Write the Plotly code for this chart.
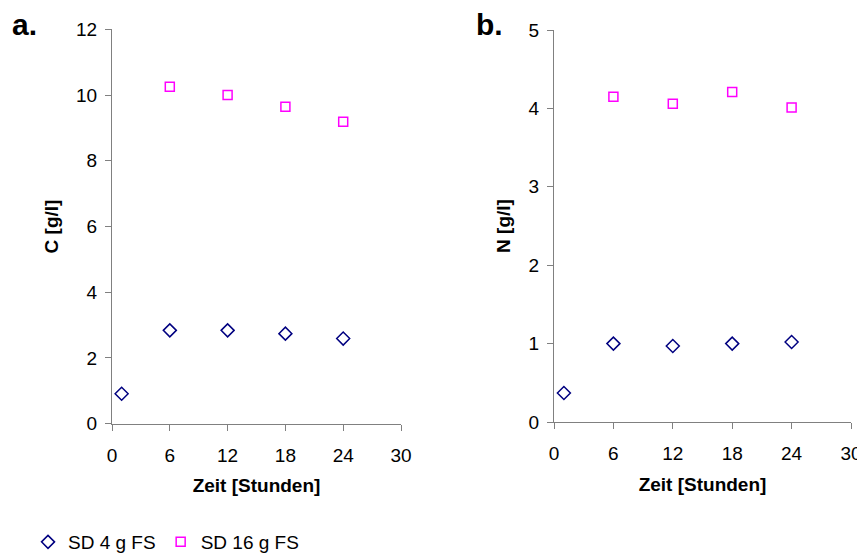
import plotly.graph_objects as go

zeit = [1, 6, 12, 18, 24]
c_sd4 = [0.91, 2.84, 2.84, 2.74, 2.59]
c_sd16 = [None, 10.25, 10.0, 9.64, 9.19]
n_sd4 = [0.37, 1.0, 0.97, 1.0, 1.02]
n_sd16 = [None, 4.15, 4.06, 4.21, 4.01]
x_ticks = [0, 6, 12, 18, 24, 30]
c_ticks = [0, 2, 4, 6, 8, 10, 12]
n_ticks = [0, 1, 2, 3, 4, 5]

BLUE = "#000080"
MAG = "#FF00FF"
FONT = "Liberation Sans, Arial, sans-serif"

fig = go.Figure()

def add(x, y, xa, ya, color, symbol, name, show, size):
    fig.add_trace(go.Scatter(
        x=x, y=y, xaxis=xa, yaxis=ya, mode="markers", name=name,
        showlegend=show, legendgroup=name,
        marker=dict(symbol=symbol, size=size, color=color,
                    line=dict(color=color, width=1.5)),
    ))

add(zeit, c_sd4, "x", "y", BLUE, "diamond-open", "SD 4 g FS", True, 10)
add(zeit, c_sd16, "x", "y", MAG, "square-open", "SD 16 g FS", True, 9)
add(zeit, n_sd4, "x2", "y2", BLUE, "diamond-open", "SD 4 g FS", False, 10)
add(zeit, n_sd16, "x2", "y2", MAG, "square-open", "SD 16 g FS", False, 9)

# page body has an 8px margin; work in page pixels and convert
OFF = 8
W, H = 865 - OFF, 555 - OFF
def px(a, b):
    return [(a - OFF) / W, (b - OFF) / W]
def py(top, bottom):
    return [(H - (bottom - OFF)) / H, (H - (top - OFF)) / H]
def pxx(a):
    return (a - OFF) / W
def pyy(a):
    return (H - (a - OFF)) / H

axis_common = dict(
    showgrid=False, zeroline=False, showline=True, linecolor="#808080",
    linewidth=1, ticks="outside", ticklen=6, tickcolor="#808080",
    tickfont=dict(family=FONT, size=19, color="black"),
    automargin=False,
)
title_font = dict(family=FONT, size=19, color="black")

fig.update_layout(
    width=W, height=H,
    margin=dict(l=0, r=0, t=0, b=0, autoexpand=False),
    paper_bgcolor="white", plot_bgcolor="white",
    font=dict(family=FONT, color="black"),
    xaxis=dict(domain=px(112, 401), range=[0, 30], tickvals=x_ticks,
               anchor="y", ticklabelstandoff=8,
               title=dict(text="<b>Zeit [Stunden]</b>", font=title_font, standoff=14),
               **axis_common),
    yaxis=dict(domain=py(29.3, 423.7), range=[0, 12], tickvals=c_ticks,
               anchor="x", ticklabelstandoff=4,
               title=dict(text="<b>C [g/l]</b>", font=title_font, standoff=12),
               **axis_common),
    xaxis2=dict(domain=px(554, 851), range=[0, 30], tickvals=x_ticks,
                anchor="y2", ticklabelstandoff=8,
                title=dict(text="<b>Zeit [Stunden]</b>", font=title_font, standoff=14),
                **axis_common),
    yaxis2=dict(domain=py(30, 422), range=[0, 5], tickvals=n_ticks,
                anchor="x2", ticklabelstandoff=4,
                title=dict(text="<b>N [g/l]</b>", font=title_font, standoff=12),
                **axis_common),
    legend=dict(orientation="h", x=pxx(28), y=-6 / H, xanchor="left", yanchor="bottom",
                font=dict(family=FONT, size=19, color="black"),
                itemwidth=30, tracegroupgap=0, bgcolor="rgba(0,0,0,0)"),
    annotations=[
        dict(text="<b>a.</b>", x=pxx(10), y=pyy(24), xref="paper", yref="paper",
             xanchor="left", yanchor="middle", showarrow=False,
             font=dict(family=FONT, size=30, color="black")),
        dict(text="<b>b.</b>", x=pxx(474), y=pyy(24), xref="paper", yref="paper",
             xanchor="left", yanchor="middle", showarrow=False,
             font=dict(family=FONT, size=30, color="black")),
    ],
)

fig.write_html("out.html")
